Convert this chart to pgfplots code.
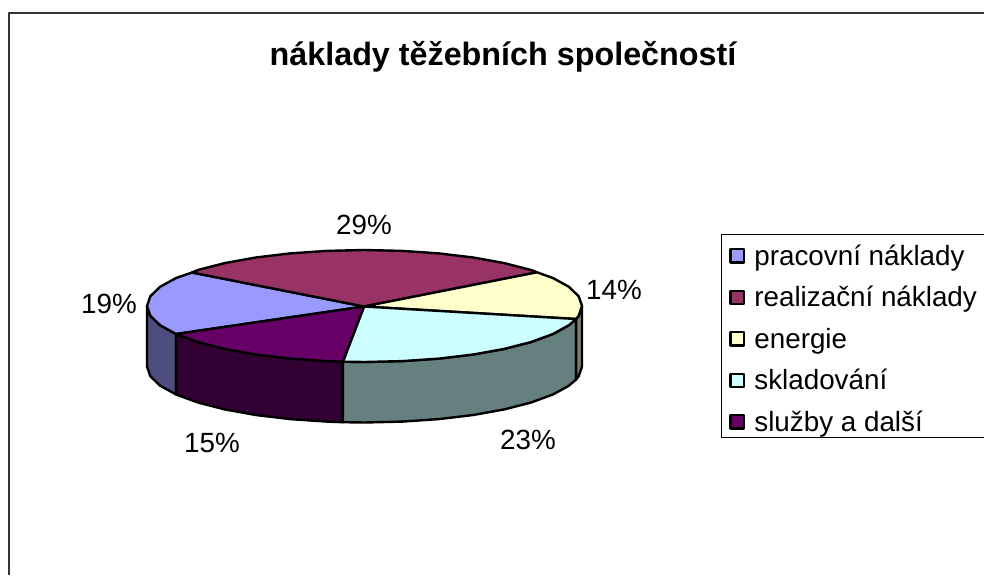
\documentclass[border=0pt]{standalone}
\usepackage{pgfplots}
\pgfplotsset{compat=1.18}
\usepackage{fontspec}
\setmainfont{Liberation Sans}
\definecolor{cA}{HTML}{9999FF}
\definecolor{cB}{HTML}{993366}
\definecolor{cC}{HTML}{FFFFCC}
\definecolor{cD}{HTML}{CCFFFF}
\definecolor{cE}{HTML}{660066}
\definecolor{wA}{HTML}{4D4D80}
\definecolor{wC}{HTML}{7F7F66}
\definecolor{wD}{HTML}{667F7F}
\definecolor{wE}{HTML}{330033}
\definecolor{fr}{HTML}{333333}
\begin{document}
\begin{tikzpicture}[x=1pt,y=1pt]
\path[use as bounding box] (0,0) rectangle (984,575);
\begin{axis}[
  at={(0,0)},anchor=south west,
  scale only axis,width=984pt,height=575pt,
  xmin=0,xmax=984,ymin=0,ymax=575,y dir=reverse,
  hide axis,clip=false,
  legend style={at={(0.7327,0.5922)},anchor=north west,draw=black,line width=1pt,
    font=\fontsize{27.8}{32}\selectfont,
    inner xsep=8pt,inner ysep=5pt,row sep=14.5pt,
    nodes={inner sep=0pt,text height=25.5pt,text depth=1.5pt,anchor=base west}},
  legend cell align=left,
  legend image code/.code={\draw[#1,line width=2.4pt] (0pt,3pt) rectangle (13.2pt,16.2pt);\path (22.5pt,0pt);},
  every axis plot/.append style={line join=round,draw=black,line width=2.4pt}
]
% side walls
\addplot[fill=wA,forget plot] coordinates {(147,306)(150.3,315.7)(160.1,325.2)(176.1,334)(176.1,394.5)(160.1,385.7)(150.3,376.2)(147,366.5)(147,306)};
\addplot[fill=wE,forget plot] coordinates {(176.1,334)(197.9,342)(224.7,348.9)(255.7,354.5)(290.1,358.6)(326.7,361.1)(342.9,361.7)(342.9,422.2)(326.7,421.6)(290.1,419.1)(255.7,415)(224.7,409.4)(197.9,402.5)(176.1,394.5)(176.1,334)};
\addplot[fill=wD,forget plot] coordinates {(342.9,361.7)(364.5,362)(402.3,361.1)(438.9,358.6)(473.3,354.5)(504.3,348.9)(531.1,342)(552.9,334)(568.9,325.2)(576.1,319)(576.1,379.5)(568.9,385.7)(552.9,394.5)(531.1,402.5)(504.3,409.4)(473.3,415)(438.9,419.1)(402.3,421.6)(364.5,422.5)(342.9,422.2)(342.9,361.7)};
\addplot[fill=wC,forget plot] coordinates {(576.1,319)(578.7,315.7)(582,306)(582,366.5)(578.7,376.2)(576.1,379.5)(576.1,319)};
% top faces
\addplot[fill=cA] coordinates {(364,306.5)(192,272.5)(176.1,278)(160.1,286.8)(150.3,296.3)(147,306)(150.3,315.7)(160.1,325.2)(176.1,334)(364,306.5)};
\addlegendentry{pracovní náklady}
\addplot[fill=cB] coordinates {(364,306.5)(537,272.3)(531.1,270)(504.3,263.1)(473.3,257.5)(438.9,253.4)(402.3,250.9)(364.5,250)(326.7,250.9)(290.1,253.4)(255.7,257.5)(224.7,263.1)(197.9,270)(192,272.5)(364,306.5)};
\addlegendentry{realizační náklady\rule{30pt}{0pt}}
\addplot[fill=cC] coordinates {(364,306.5)(576.1,319)(578.7,315.7)(582,306)(578.7,296.3)(568.9,286.8)(552.9,278)(537,272.3)(364,306.5)};
\addlegendentry{energie}
\addplot[fill=cD] coordinates {(364,306.5)(342.9,361.7)(364.5,362)(402.3,361.1)(438.9,358.6)(473.3,354.5)(504.3,348.9)(531.1,342)(552.9,334)(568.9,325.2)(576.1,319)(364,306.5)};
\addlegendentry{skladování}
\addplot[fill=cE] coordinates {(364,306.5)(176.1,334)(197.9,342)(224.7,348.9)(255.7,354.5)(290.1,358.6)(326.7,361.1)(342.9,361.7)(364,306.5)};
\addlegendentry{služby a další}
% chart frame (open at right and bottom)
\addplot[draw=fr,line width=2pt,forget plot] coordinates {(9,575)(9,13)(984,13)};
\node[font=\fontsize{32.3}{38}\bfseries\selectfont] at (axis cs:503,57) {náklady těžebních společností};
\node[font=\fontsize{27.8}{32}\selectfont] at (axis cs:364,225) {29\%};
\node[font=\fontsize{27.8}{32}\selectfont] at (axis cs:614,290) {14\%};
\node[font=\fontsize{27.8}{32}\selectfont] at (axis cs:528,440) {23\%};
\node[font=\fontsize{27.8}{32}\selectfont] at (axis cs:212,443) {15\%};
\node[font=\fontsize{27.8}{32}\selectfont] at (axis cs:109,304) {19\%};
\end{axis}
\end{tikzpicture}
\end{document}
